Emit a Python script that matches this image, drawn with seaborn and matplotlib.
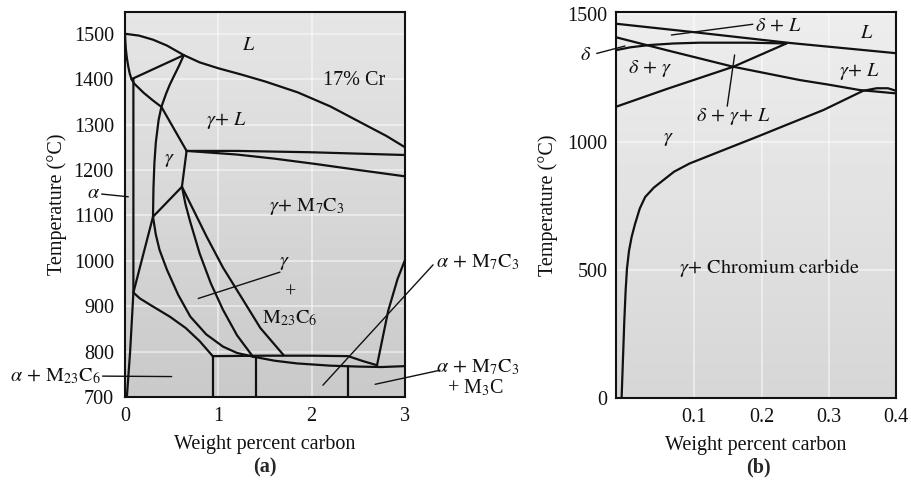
import numpy as np
import matplotlib
matplotlib.use("Agg")
import matplotlib.pyplot as plt
import seaborn as sns

# ---------------- data: panel (a) 17% Cr ----------------
a_liq_x = [0.0, 0.15, 0.30, 0.45, 0.63, 0.80, 1.0, 1.25, 1.5, 1.85, 2.2, 2.55, 2.8, 3.0]
a_liq_T = [1500, 1496, 1487, 1474, 1453, 1437, 1424, 1410, 1395, 1371, 1340, 1302, 1275, 1250]
a_delta_x = [0.0, 0.004, 0.01, 0.02, 0.035, 0.05, 0.07, 0.1, 0.15, 0.2, 0.3, 0.39]
a_delta_T = [1500, 1482, 1465, 1447, 1428, 1413, 1400, 1390, 1380, 1370, 1353, 1339]
a_peri_x = [0.07, 0.63]
a_peri_T = [1400, 1453]
a_gam_x = [0.63, 0.58, 0.52, 0.48, 0.44, 0.39, 0.36, 0.33, 0.315, 0.305, 0.30]
a_gam_T = [1453, 1430, 1405, 1388, 1368, 1339, 1310, 1260, 1215, 1160, 1097]
a_sol_x = [0.39, 0.66]
a_sol_T = [1339, 1242]
a_eu_up_x = [0.66, 1.2, 2.0, 3.0]
a_eu_up_T = [1242, 1242, 1239, 1233]
a_eu_lo_x = [0.66, 1.2, 1.6, 2.05, 2.5, 3.0]
a_eu_lo_T = [1242, 1234, 1225, 1213, 1200, 1186]
a_eq_x = [0.66, 0.61]
a_eq_T = [1242, 1163]
a_qj_x = [0.61, 0.30]
a_qj_T = [1163, 1097]
a_j9_x = [0.30, 0.09]
a_j9_T = [1097, 930]
a_c1_x = [0.30, 0.33, 0.37, 0.45, 0.57, 0.70, 0.87, 1.05, 1.2, 1.37]
a_c1_T = [1097, 1058, 1024, 980, 925, 877, 838, 811, 797, 789]
a_c2_x = [0.61, 0.65, 0.70, 0.80, 0.92, 1.05, 1.2, 1.37]
a_c2_T = [1163, 1123, 1085, 1016, 950, 892, 836, 789]
a_c3_x = [0.61, 0.68, 0.75, 0.875, 0.96, 1.05, 1.27, 1.45, 1.70]
a_c3_T = [1163, 1134, 1105, 1053, 1020, 985, 912, 852, 792]
a_c930_x = [0.09, 0.16, 0.27, 0.48, 0.65, 0.80, 0.94]
a_c930_T = [930, 917, 903, 877, 852, 823, 790]
a_alpha_x = [0.09, 0.09, 0.055, 0.02]
a_alpha_T = [1400, 930, 800, 700]
a_up790_x = [0.94, 1.5, 2.0, 2.39, 2.55, 2.70]
a_up790_T = [790, 791, 791, 790, 779, 770]
a_lo_x = [1.37, 1.6, 1.84, 2.2, 2.5, 2.75, 3.0]
a_lo_T = [789, 780, 774, 769, 767, 766, 768]
a_rise_x = [2.70, 2.76, 2.82, 2.92, 3.0]
a_rise_T = [770, 830, 890, 960, 1002]
a_vert_x = [0.94, 1.40, 2.39]
a_vert_top = [790, 788, 768]
a_xticks = [0, 1, 2, 3]
a_yticks = [700, 800, 900, 1000, 1100, 1200, 1300, 1400, 1500]

# ---------------- data: panel (b) ----------------
b_liq_x = [-0.016, 0.093, 0.242, 0.40]
b_liq_T = [1462, 1431, 1387, 1347]
b_dl_x = [-0.016, 0.06, 0.158, 0.257, 0.30, 0.346, 0.40]
b_dl_T = [1409, 1358, 1294, 1242, 1224, 1203, 1190]
b_dcur_x = [-0.016, 0.005, 0.034, 0.07, 0.108, 0.182, 0.237]
b_dcur_T = [1359, 1370, 1379, 1385, 1388, 1388, 1385]
b_rise_x = [-0.016, 0.059, 0.158, 0.237]
b_rise_T = [1138, 1207, 1294, 1385]
b_gam_x = [-0.008, -0.006, -0.004, -0.002, 0.0, 0.003, 0.007, 0.012, 0.019, 0.027, 0.040,
           0.054, 0.070, 0.093, 0.14, 0.193, 0.24, 0.292, 0.351, 0.371, 0.388, 0.40]
b_gam_T = [0, 150, 300, 420, 506, 575, 630, 680, 740, 785, 822,
           851, 884, 916, 965, 1020, 1070, 1125, 1200, 1210, 1210, 1200]
b_xticks = [0.1, 0.2, 0.3, 0.4]
b_yticks = [0, 500, 1000, 1500]

# ---------------- style ----------------
sns.set_style("white")
plt.rcParams["font.family"] = ["Liberation Serif", "DejaVu Serif"]
plt.rcParams["mathtext.fontset"] = "stix"
FS = 14.5
LW = 1.6

fig = plt.figure(figsize=(9.11, 4.87), dpi=100)
axa = fig.add_axes([0.1372, 0.1848, 0.3074, 0.7906])
axb = fig.add_axes([0.6762, 0.1828, 0.3074, 0.7926])


def bg(ax, top, bot):
    grad = np.linspace(top, bot, 64).reshape(-1, 1)
    ax.imshow(grad, extent=(0, 1, 0, 1), transform=ax.transAxes, cmap="gray",
              vmin=0, vmax=1, aspect="auto", zorder=0, interpolation="bicubic")


def curve(ax, xs, ys, lw=LW):
    sns.lineplot(x=xs, y=ys, sort=False, estimator=None, color="#111111",
                 linewidth=lw, ax=ax, zorder=3)


def leader(ax, start, end):
    ax.annotate("", xy=end, xytext=start, annotation_clip=False,
                arrowprops=dict(arrowstyle="-", lw=1.0, color="#111111",
                                shrinkA=0, shrinkB=0), zorder=4)


def lab(ax, x, y, s, ha="center", va="center"):
    ax.text(x, y, s, fontsize=FS, ha=ha, va=va, color="#111111", zorder=5,
            clip_on=False)


# ---------- panel (a) ----------
bg(axa, 0.90, 0.79)
for xs, ys in [(a_liq_x, a_liq_T), (a_delta_x, a_delta_T), (a_peri_x, a_peri_T),
               (a_gam_x, a_gam_T), (a_sol_x, a_sol_T), (a_eu_up_x, a_eu_up_T),
               (a_eu_lo_x, a_eu_lo_T), (a_eq_x, a_eq_T), (a_qj_x, a_qj_T),
               (a_j9_x, a_j9_T), (a_c1_x, a_c1_T), (a_c2_x, a_c2_T),
               (a_c3_x, a_c3_T), (a_c930_x, a_c930_T), (a_alpha_x, a_alpha_T),
               (a_up790_x, a_up790_T), (a_lo_x, a_lo_T), (a_rise_x, a_rise_T)]:
    curve(axa, xs, ys)
for vx, vt in zip(a_vert_x, a_vert_top):
    curve(axa, [vx, vx], [vt, 700])

axa.set_xlim(0, 3)
axa.set_ylim(700, 1548)
axa.set_xticks(a_xticks)
axa.set_yticks(a_yticks)

lab(axa, 1.32, 1475, r"$L$")
lab(axa, 2.45, 1398, "17% Cr")
lab(axa, 1.09, 1310, r"$\gamma\!+\,L$")
lab(axa, 0.48, 1224, r"$\gamma$")
lab(axa, 1.95, 1119, r"$\gamma\!+\,\mathrm{M_7C_3}$")
lab(axa, 1.71, 997, r"$\gamma$")
lab(axa, 1.78, 929, "+")
lab(axa, 1.77, 874, r"$\mathrm{M_{23}C_6}$")
leader(axa, (1.66, 975), (0.785, 917))
lab(axa, -0.27, 1149, r"$\alpha$", ha="right")
leader(axa, (-0.25, 1147), (0.035, 1141))
lab(axa, -0.26, 746, r"$\alpha\,+\,\mathrm{M_{23}C_6}$", ha="right")
leader(axa, (-0.24, 746), (0.50, 745))
lab(axa, 3.33, 997, r"$\alpha\,+\,\mathrm{M_7C_3}$", ha="left")
leader(axa, (3.30, 991), (2.12, 726))
lab(axa, 3.33, 764, r"$\alpha\,+\,\mathrm{M_7C_3}$", ha="left")
lab(axa, 3.45, 720, r"+ M$_3$C", ha="left")
leader(axa, (3.375, 759), (2.68, 728))

# ---------- panel (b) ----------
bg(axb, 0.93, 0.84)
for xs, ys in [(b_liq_x, b_liq_T), (b_dl_x, b_dl_T), (b_dcur_x, b_dcur_T),
               (b_rise_x, b_rise_T), (b_gam_x, b_gam_T)]:
    curve(axb, xs, ys)
axb.set_xlim(-0.0163, 0.4)
axb.set_ylim(0, 1508)
axb.set_xticks(b_xticks)
axb.set_yticks(b_yticks)

lab(axb, 0.19, 1453, r"$\delta\,+\,L$", ha="left")
leader(axb, (0.187, 1460), (0.066, 1418))
lab(axb, 0.356, 1425, r"$L$")
lab(axb, -0.062, 1338, r"$\delta$")
leader(axb, (-0.045, 1346), (-0.003, 1375))
lab(axb, 0.034, 1288, r"$\delta\,+\,\gamma$")
lab(axb, 0.346, 1275, r"$\gamma\!+\,L$")
lab(axb, 0.158, 1099, r"$\delta\,+\,\gamma\!+\,L$")
leader(axb, (0.16, 1340), (0.149, 1140))
lab(axb, 0.061, 1014, r"$\gamma$")
lab(axb, 0.212, 506, r"$\gamma\!+\,\mathrm{Chromium\ carbide}$")

# ---------- common axes styling ----------
for ax in (axa, axb):
    ax.grid(True, color="white", lw=1.2, alpha=0.55, zorder=1)
    ax.set_axisbelow(False)
    for sp in ax.spines.values():
        sp.set_color("#111111")
        sp.set_linewidth(1.5)
        sp.set_zorder(6)
    ax.tick_params(axis="x", direction="in", length=11, width=1.3,
                   labelsize=FS, pad=7, colors="#111111")
    ax.set_xlabel("Weight percent carbon", fontsize=FS, labelpad=7, color="#111111")
axa.set_ylabel("Temperature (°C)", fontsize=FS, labelpad=5, color="#111111")
axb.set_ylabel("Temperature (°C)", fontsize=FS, labelpad=7, color="#111111")
axa.tick_params(axis="y", direction="inout", length=14, width=1.3,
                labelsize=FS, pad=1, colors="#111111")
axb.tick_params(axis="y", direction="in", length=11, width=1.3,
                labelsize=FS, pad=6, colors="#111111")

fig.text(265 / 911, 1 - 467 / 487, "(a)", fontsize=FS, fontweight="bold",
         ha="center", va="center")
fig.text(758 / 911, 1 - 467 / 487, "(b)", fontsize=FS, fontweight="bold",
         ha="center", va="center")

fig.savefig("out.png", dpi=100, facecolor="white")
